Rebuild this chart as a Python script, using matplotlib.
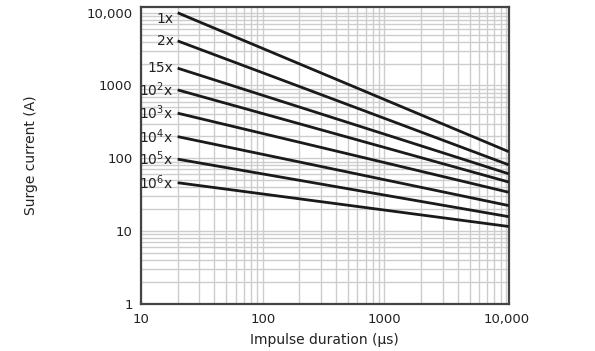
import numpy as np
import matplotlib
matplotlib.use('Agg')
import matplotlib.pyplot as plt
from matplotlib.ticker import FixedLocator, FixedFormatter, LogLocator, NullFormatter

# surge curves: value at 20 us and at ~10,500 us
labels = ['1x', '2x', '15x', r'10$^2$x', r'10$^3$x', r'10$^4$x', r'10$^5$x', r'10$^6$x']
x_start = 20
x_end = 10500
i_start = [10000, 4100, 1730, 870, 416, 198, 97, 46]
i_end = [123, 81, 61, 47, 34, 22.3, 15.7, 11.5]

x_ticks = [10, 100, 1000, 10000]
x_ticklabels = ['10', '100', '1000', '10,000']
y_ticks = [1, 10, 100, 1000, 10000]
y_ticklabels = ['1', '10', '100', '1000', '10,000']

grid_color = '#cdcdcd'
line_color = '#1a1a1a'
spine_color = '#444444'
text_color = '#222222'

fig = plt.figure(figsize=(5.95, 3.51), dpi=100)
ax = fig.add_axes([0.237, 0.135, 0.618, 0.845])

ax.set_xscale('log')
ax.set_yscale('log')
ax.set_xlim(10, x_end)
ax.set_ylim(1, 12000)

ax.xaxis.set_major_locator(FixedLocator(x_ticks))
ax.xaxis.set_major_formatter(FixedFormatter(x_ticklabels))
ax.yaxis.set_major_locator(FixedLocator(y_ticks))
ax.yaxis.set_major_formatter(FixedFormatter(y_ticklabels))
ax.xaxis.set_minor_locator(LogLocator(base=10, subs=np.arange(2, 10)))
ax.yaxis.set_minor_locator(LogLocator(base=10, subs=np.arange(2, 10)))
ax.xaxis.set_minor_formatter(NullFormatter())
ax.yaxis.set_minor_formatter(NullFormatter())

ax.grid(True, which='both', color=grid_color, linewidth=1.0)
ax.set_axisbelow(True)
ax.tick_params(which='both', length=0, labelsize=9.5, colors=text_color)
ax.tick_params(axis='x', pad=7)
ax.tick_params(axis='y', pad=6)

for s in ax.spines.values():
    s.set_color(spine_color)
    s.set_linewidth(1.6)

for lab, a, b in zip(labels, i_start, i_end):
    ax.plot([x_start, x_end], [a, b], color=line_color, linewidth=2.0,
            solid_capstyle='butt', zorder=3)
    ypos = a * 0.82 if lab == '1x' else a
    ax.text(18.5, ypos, lab, ha='right', va='center', fontsize=10,
            color=text_color)

ax.set_xlabel('Impulse duration (\u03bcs)', fontsize=10, color=text_color, va='center')
ax.set_ylabel('Surge current (A)', fontsize=10, color=text_color, va='center')
ax.xaxis.set_label_coords(0.5, -0.122)
ax.yaxis.set_label_coords(-0.30, 0.5)

fig.savefig('out.png', dpi=100)
